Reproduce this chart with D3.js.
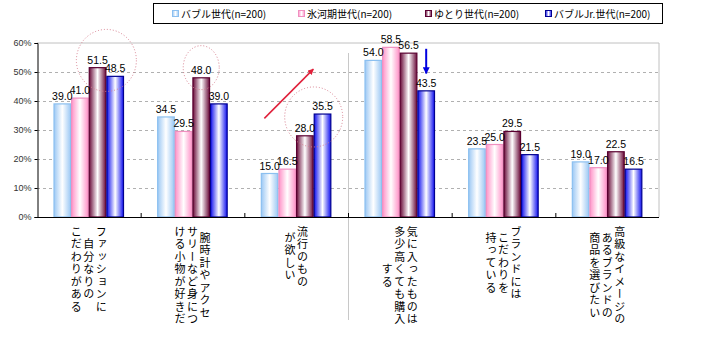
<!DOCTYPE html>
<html><head><meta charset="utf-8">
<script src="https://cdn.jsdelivr.net/npm/d3@7"></script>
<style>
html,body{margin:0;padding:0;background:#fff;}
svg{display:block;}
</style></head>
<body>
<svg id="c" width="720" height="344"></svg>
<script>
// ---- data ----
const categories = [
  "ファッションに自分なりのこだわりがある",
  "腕時計やアクセサリーなど身につける小物が好きだ",
  "流行のものが欲しい",
  "気に入ったものは多少高くても購入する",
  "ブランドにはこだわりを持っている",
  "高級なイメージのあるブランドの商品を選びたい"
];
const categoryLabelLines = [
  ["ファッションに", "自分なりの", "こだわりがある"],
  ["腕時計やアクセ", "サリーなど身につ", "ける小物が好きだ"],
  ["流行のもの", "が欲しい"],
  ["気に入ったものは", "多少高くても購入", "する"],
  ["ブランドには", "こだわりを", "持っている"],
  ["高級なイメージの", "あるブランドの", "商品を選びたい"]
];
const seriesNames = ["バブル世代(n=200)", "氷河期世代(n=200)", "ゆとり世代(n=200)", "バブルJr.世代(n=200)"];
const bubble   = [39.0, 34.5, 15.0, 54.0, 23.5, 19.0];
const hyogaki  = [41.0, 29.5, 16.5, 58.5, 25.0, 17.0];
const yutori   = [51.5, 48.0, 28.0, 56.5, 29.5, 22.5];
const bubbleJr = [48.5, 39.0, 35.5, 43.5, 21.5, 16.5];
const yTicks = [0, 10, 20, 30, 40, 50, 60];
const yTickLabels = ["0%", "10%", "20%", "30%", "40%", "50%", "60%"];

const seriesValues = [bubble, hyogaki, yutori, bubbleJr];
const seriesColors = ["#9cc8f4", "#ff93c8", "#6a0c3a", "#1010f0"];
const seriesStroke = ["#8cc0f0", "#f090c0", "#5a0030", "#000090"];

const svg = d3.select("#c");
const font = "'Noto Sans CJK JP', 'Noto Sans', sans-serif";

const L = 37, R = 659, T = 43, B = 217;
const x0 = d3.scaleBand().domain(d3.range(categories.length)).range([L, R]);
const x1 = d3.scaleBand().domain(d3.range(seriesNames.length)).range([16.5, 87]);
const y = d3.scaleLinear().domain([0, 60]).range([B, T]);

// gradients
const defs = svg.append("defs");
seriesColors.forEach((c, i) => {
  const g = defs.append("linearGradient").attr("id", "g" + i)
    .attr("x1", "0").attr("x2", "1").attr("y1", "0").attr("y2", "0");
  g.append("stop").attr("offset", "0").attr("stop-color", c);
  g.append("stop").attr("offset", "0.5").attr("stop-color", "#ffffff");
  g.append("stop").attr("offset", "1").attr("stop-color", c);
});

// plot area border (top/right) and gridlines
svg.append("line").attr("x1", L).attr("x2", R).attr("y1", y(60)).attr("y2", y(60))
  .attr("stroke", "#c0c0c0").attr("stroke-width", 1);
svg.append("line").attr("x1", R).attr("x2", R).attr("y1", y(60)).attr("y2", y(0))
  .attr("stroke", "#c0c0c0").attr("stroke-width", 1);
svg.append("g").selectAll("line").data(yTicks.filter(t => t > 0 && t < 60)).join("line")
  .attr("x1", L).attr("x2", R).attr("y1", d => Math.round(y(d)) + 0.5).attr("y2", d => Math.round(y(d)) + 0.5)
  .attr("stroke", "#b0b0b0").attr("stroke-dasharray", "3,3");

// separator line
const sepX = x0(3);
svg.append("line").attr("x1", sepX + 0.5).attr("x2", sepX + 0.5).attr("y1", 53).attr("y2", 320)
  .attr("stroke", "#c8c8c8");

// bars
const groups = svg.append("g").selectAll("g").data(categories.map((c, i) => i)).join("g")
  .attr("transform", d => `translate(${x0(d)},0)`);
groups.selectAll("rect").data(ci => seriesValues.map((s, si) => ({ si, v: s[ci] }))).join("rect")
  .attr("x", d => x1(d.si) + 0.5)
  .attr("width", x1.bandwidth() - 1)
  .attr("y", d => y(d.v))
  .attr("height", d => y(0) - y(d.v))
  .attr("fill", d => `url(#g${d.si})`)
  .attr("stroke", d => seriesStroke[d.si])
  .attr("stroke-width", 1.2);
groups.selectAll("text.v").data(ci => seriesValues.map((s, si) => ({ si, v: s[ci] }))).join("text")
  .attr("class", "v")
  .attr("x", d => x1(d.si) + x1.bandwidth() / 2)
  .attr("y", d => y(d.v) - 4)
  .attr("text-anchor", "middle")
  .attr("font-family", "'Liberation Sans', Arial, sans-serif")
  .attr("font-size", 10.5)
  .attr("fill", "#000")
  .text(d => d.v.toFixed(1));

// axes
const yAxis = d3.axisLeft(y).tickValues(yTicks).tickSize(3).tickFormat((d, i) => yTickLabels[i]);
const ya = svg.append("g").attr("transform", `translate(${L + 0.5},0)`).call(yAxis);
ya.select(".domain").attr("stroke", "#000");
ya.selectAll("text").attr("font-family", "'Liberation Sans', Arial, sans-serif").attr("font-size", 9)
  .attr("fill", "#333").attr("x", -6);

svg.append("line").attr("x1", L).attr("x2", R).attr("y1", B + 0.5).attr("y2", B + 0.5).attr("stroke", "#000");
svg.append("g").selectAll("line").data(d3.range(1, categories.length)).join("line")
  .attr("x1", d => x0(d) + 0.5).attr("x2", d => x0(d) + 0.5)
  .attr("y1", B - 4).attr("y2", B).attr("stroke", "#000");

// vertical category labels
const pitch = 12.5, blockTop = 226;
categoryLabelLines.forEach((lines, ci) => {
  const cx = x0(ci) + x0.bandwidth() / 2;
  const maxLen = d3.max(lines, l => l.length);
  const n = lines.length;
  lines.forEach((line, li) => {
    const colX = cx + ((n - 1) / 2 - li) * pitch;
    svg.append("text")
      .attr("x", colX)
      .attr("y", blockTop + maxLen * pitch / 2)
      .attr("text-anchor", "middle")
      .style("writing-mode", "vertical-rl")
      .style("text-orientation", "mixed")
      .attr("font-family", font)
      .attr("font-size", 11)
      .attr("letter-spacing", 1.5)
      .attr("fill", "#000")
      .text(line);
  });
});

// legend
svg.append("rect").attr("x", 153.5).attr("y", 3.5).attr("width", 509).attr("height", 20)
  .attr("fill", "#fff").attr("stroke", "#000");
const legX = [172, 298, 425, 545];
seriesNames.forEach((n, i) => {
  svg.append("rect").attr("x", legX[i] + 0.5).attr("y", 10.5).attr("width", 6).attr("height", 6)
    .attr("fill", `url(#g${i})`).attr("stroke", seriesStroke[i]);
  svg.append("text").attr("x", legX[i] + 9).attr("y", 17.5)
    .attr("font-family", font).attr("font-size", 10).attr("fill", "#000").text(n);
});

// annotations
const bx = (ci, si) => x0(ci) + x1(si);
const ann = svg.append("g").attr("fill", "none").attr("stroke", "#d88090").attr("stroke-width", 1)
  .attr("stroke-dasharray", "1,2");
ann.append("ellipse").attr("cx", bx(0, 3)).attr("cy", y(54)).attr("rx", 30).attr("ry", 31);
ann.append("ellipse").attr("cx", bx(1, 2) + x1.bandwidth() / 2).attr("cy", y(51.5)).attr("rx", 18).attr("ry", 22);
ann.append("ellipse").attr("cx", bx(2, 3)).attr("cy", y(34.5)).attr("rx", 29).attr("ry", 30);

defs.append("marker").attr("id", "ar").attr("viewBox", "0 0 10 10").attr("refX", 9).attr("refY", 5)
  .attr("markerWidth", 6).attr("markerHeight", 6).attr("orient", "auto").attr("markerUnits", "userSpaceOnUse")
  .append("path").attr("d", "M0,0L10,5L0,10z").attr("fill", "#e0203a");
defs.append("marker").attr("id", "ab").attr("viewBox", "0 0 10 10").attr("refX", 9).attr("refY", 5)
  .attr("markerWidth", 7).attr("markerHeight", 7).attr("orient", "auto").attr("markerUnits", "userSpaceOnUse")
  .append("path").attr("d", "M0,0L10,5L0,10z").attr("fill", "#0000e0");

svg.append("line").attr("x1", x0(2) + 20).attr("y1", y(34))
  .attr("x2", x0(2) + 69).attr("y2", y(51))
  .attr("stroke", "#e0203a").attr("stroke-width", 1.5).attr("marker-end", "url(#ar)");
const bax = bx(3, 3) + x1.bandwidth() / 2;
svg.append("line").attr("x1", bax).attr("y1", y(58)).attr("x2", bax).attr("y2", y(49.5))
  .attr("stroke", "#0000e0").attr("stroke-width", 2).attr("marker-end", "url(#ab)");
</script>
</body></html>
